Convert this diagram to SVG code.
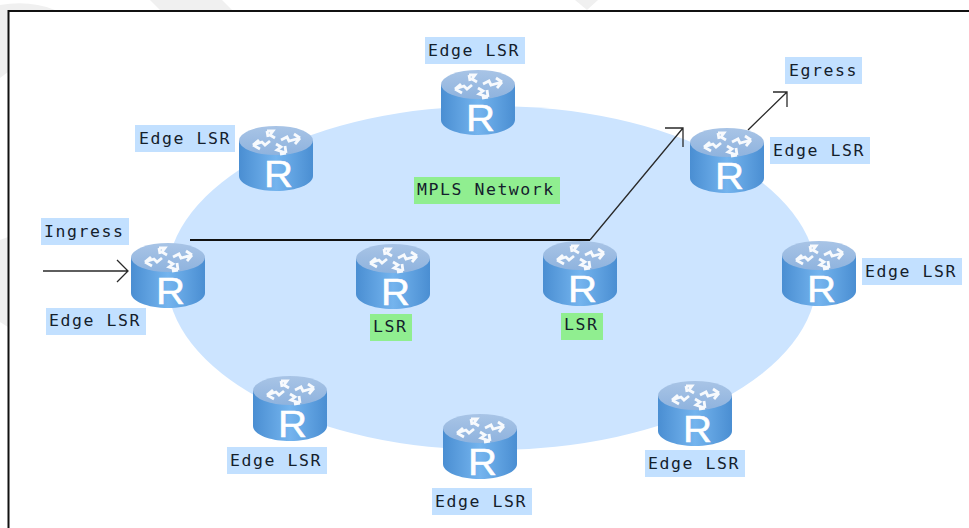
<svg xmlns="http://www.w3.org/2000/svg" width="969" height="528" viewBox="0 0 969 528">
<style>
.lb{fill:#c2e0ff}.lg{fill:#90ee90}
.t{font-family:"DejaVu Sans Mono","Liberation Mono",monospace;font-size:16.500px;letter-spacing:1.55px;fill:#14202c}
.r{font-family:"Liberation Sans",Arial,sans-serif;font-size:36px;fill:#fff;text-anchor:middle;stroke:#fff;stroke-width:.5}
.c{fill:none;stroke:#2a2a2a;stroke-width:1.3}
</style>
<defs>
<linearGradient id="body" x1="0" x2="1" y1="0" y2="0"><stop offset="0" stop-color="#4a8ed2"/><stop offset=".5" stop-color="#74b4ee"/><stop offset="1" stop-color="#4a8ed2"/></linearGradient>
<linearGradient id="top" x1="0" x2="0" y1="0" y2="1"><stop offset="0" stop-color="#a8c4e6"/><stop offset="1" stop-color="#8fb3de"/></linearGradient>
<g id="rt">
<path d="M0 15V50C0 58 16 65 37 65S74 58 74 50V15Z" fill="url(#body)"/>
<ellipse cx="37" cy="14.500" rx="37" ry="14.500" fill="url(#top)"/>
<g fill="none" stroke="#fff" stroke-width="2.800" stroke-opacity=".92">
<path d="M36 12L31 9L34 5L28 5M28 5L29 11"/><path d="M42 14L48 11L50 15L61 12M61 12L55 8M61 12L56 18"/><path d="M31 15L26 19L23 16L14 19M14 19L20 14M14 19L21 23"/><path d="M37 18L42 21L38 24L47 27M47 27L46 20M47 27L41 28"/>
</g>
</g>
</defs>
<rect width="969" height="528" fill="#fff"/>
<g fill="#f0f0f0"><path d="M150 0H222L232 10H160Z"/><path d="M575 0H598L587 10Z"/><path d="M0 5Q30 0 55 10H0Z"/><path d="M0 10H8V72L0 78Z"/><path d="M0 240L8 237V327L0 322Z"/></g>
<rect x="8.500" y="11" width="970" height="530" fill="#fff" stroke="#111" stroke-width="2"/>
<ellipse id="network" cx="492" cy="278" rx="325" ry="172" fill="#cce4ff"/>
<g id="connectors" class="connectors">
<path class="c" d="M43 271H128M117 260L128 271L117 282"/>
<path d="M190 240H590" fill="none" stroke="#111" stroke-width="2"/>
<path class="c" d="M590 240L683 128M665 128H683V147"/>
<path class="c" d="M748 130L787 92M773 92H787V107"/>
</g>
<g id="n1"><use href="#rt" x="131" y="243"/><text class="r" x="170.500" y="304" textLength="29" lengthAdjust="spacingAndGlyphs">R</text></g>
<g id="n2"><use href="#rt" x="239" y="126"/><text class="r" x="278.500" y="187" textLength="29" lengthAdjust="spacingAndGlyphs">R</text></g>
<g id="n3"><use href="#rt" x="441" y="70"/><text class="r" x="480.500" y="131" textLength="29" lengthAdjust="spacingAndGlyphs">R</text></g>
<g id="n4"><use href="#rt" x="690" y="128"/><text class="r" x="729.500" y="189" textLength="29" lengthAdjust="spacingAndGlyphs">R</text></g>
<g id="n5"><use href="#rt" x="782" y="241"/><text class="r" x="821.500" y="302" textLength="29" lengthAdjust="spacingAndGlyphs">R</text></g>
<g id="n6"><use href="#rt" x="356" y="244"/><text class="r" x="395.500" y="305" textLength="29" lengthAdjust="spacingAndGlyphs">R</text></g>
<g id="n7"><use href="#rt" x="543" y="241"/><text class="r" x="582.500" y="302" textLength="29" lengthAdjust="spacingAndGlyphs">R</text></g>
<g id="n8"><use href="#rt" x="253" y="376"/><text class="r" x="292.500" y="437" textLength="29" lengthAdjust="spacingAndGlyphs">R</text></g>
<g id="n9"><use href="#rt" x="443" y="414"/><text class="r" x="482.500" y="475" textLength="29" lengthAdjust="spacingAndGlyphs">R</text></g>
<g id="n10"><use href="#rt" x="658" y="381"/><text class="r" x="697.500" y="442" textLength="29" lengthAdjust="spacingAndGlyphs">R</text></g>
<g id="l1"><rect class="lb" x="135" y="125" width="100" height="27"/><text class="t" x="139" y="144">Edge LSR</text></g>
<g id="l2"><rect class="lb" x="425" y="37" width="100" height="27"/><text class="t" x="428" y="56">Edge LSR</text></g>
<g id="l3"><rect class="lb" x="785" y="57" width="77" height="27"/><text class="t" x="789" y="76">Egress</text></g>
<g id="l4"><rect class="lb" x="770" y="137" width="100" height="27"/><text class="t" x="773" y="156">Edge LSR</text></g>
<g id="l5"><rect class="lb" x="862" y="258" width="100" height="27"/><text class="t" x="865" y="277">Edge LSR</text></g>
<g id="l6"><rect class="lb" x="41" y="218" width="88" height="27"/><text class="t" x="44" y="237">Ingress</text></g>
<g id="l7"><rect class="lb" x="46" y="308" width="100" height="27"/><text class="t" x="49" y="326">Edge LSR</text></g>
<g id="l8"><rect class="lb" x="227" y="447" width="100" height="27"/><text class="t" x="230" y="466">Edge LSR</text></g>
<g id="l9"><rect class="lb" x="432" y="488" width="100" height="27"/><text class="t" x="435" y="507">Edge LSR</text></g>
<g id="l10"><rect class="lb" x="645" y="450" width="100" height="27"/><text class="t" x="648" y="469">Edge LSR</text></g>
<g id="l11"><rect class="lg" x="370" y="314" width="42" height="27"/><text class="t" x="373" y="332">LSR</text></g>
<g id="l12"><rect class="lg" x="561" y="313" width="42" height="27"/><text class="t" x="564" y="330">LSR</text></g>
<g id="l13"><rect class="lg" x="414" y="177" width="146" height="27"/><text class="t" x="417" y="195">MPLS Network</text></g>
</svg>
